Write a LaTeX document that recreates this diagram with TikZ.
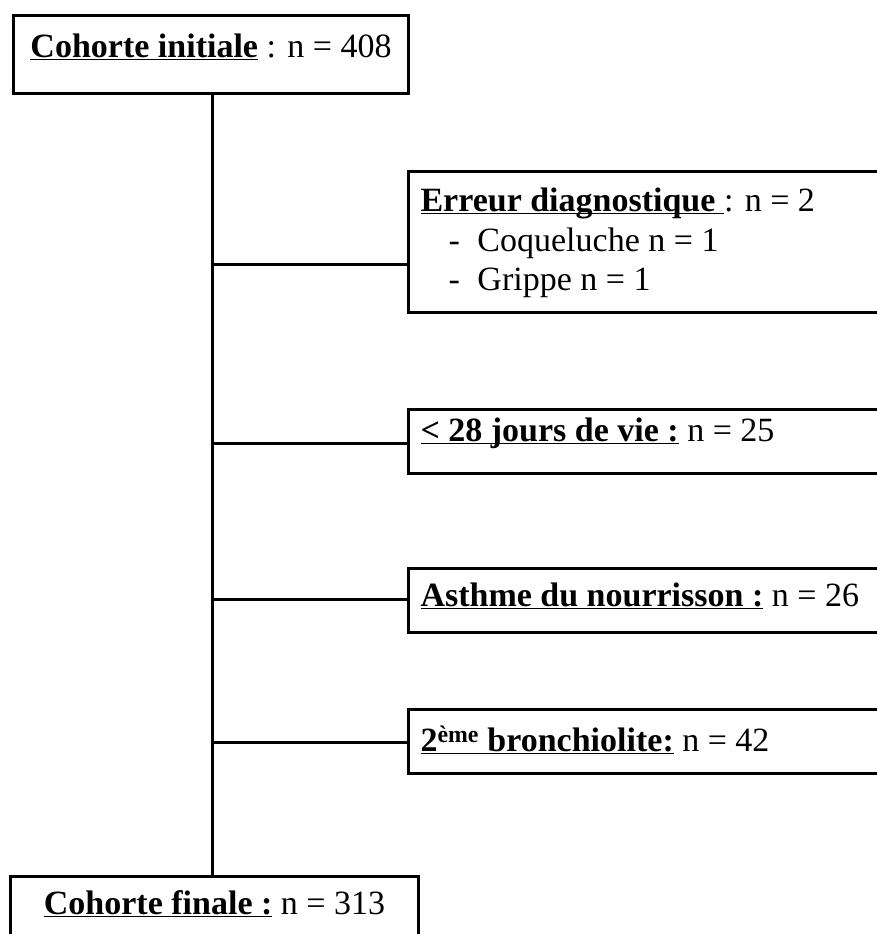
\documentclass[tikz,border=0pt]{standalone}
\usepackage{fontspec}
\setmainfont{Liberation Serif}
\usetikzlibrary{positioning}
\newcommand{\souligne}[1]{\underline{\smash{#1}}}

\begin{document}
\begin{tikzpicture}[
  x=1pt, y=-1pt,
  txt/.style={
    font=\fontsize{34}{39.5}\selectfont,
    execute at begin node={\spaceskip=0pt\xspaceskip=0pt}
  },
  cohorte/.style={
    txt, draw=black, line width=3pt,
    align=center, anchor=north west,
    minimum width=#1, minimum height=78pt,
    inner sep=0pt
  },
  motif/.style={
    txt, draw=black, line width=3pt,
    align=left, anchor=north west,
    text width=500pt, minimum height=#1,
    inner xsep=12pt, inner ysep=0pt
  },
  link/.style={line width=3pt}
]
\clip (0,0) rectangle (877,934);

%% ═══ COHORTE INITIALE ═══
\node[cohorte=395pt, text height=24pt, text depth=18pt] (init) at (12,14)
  {\souligne{\textbf{Cohorte initiale}} : n = 408};

\coordinate (trunk) at (212,0);

%% ═══ EXCLUSIONS ═══
\node[motif=141pt, text height=24pt, text depth=85pt] (erreur) at (407,170)
  {\souligne{\textbf{Erreur diagnostique}\ }: n = 2\\
   \hspace*{28pt}\makebox[29pt][l]{-}Coqueluche n = 1\\
   \hspace*{28pt}\makebox[29pt][l]{-}Grippe n = 1};

\node[motif=64pt, text height=24pt, text depth=24pt] (jours) at (407,408)
  {\souligne{\textbf{< 28 jours de vie :}} n = 25};

\node[motif=64pt, text height=26pt, text depth=14pt] (asthme) at (407,567)
  {\souligne{\textbf{Asthme du nourrisson :}} n = 26};

\node[motif=64pt, text height=28pt, text depth=8pt] (bronch) at (407,708)
  {\souligne{\textbf{2\textsuperscript{ème} bronchiolite:}} n = 42};

%% ═══ COHORTE FINALE ═══
\node[cohorte=408pt, text height=20pt, text depth=22pt] (final) at (9,875)
  {\souligne{\textbf{Cohorte finale :}} n = 313};

\draw[link] (init.south -| trunk) -- (final.north -| trunk);
\foreach \b/\dy in {erreur/-22.5, jours/-2, asthme/1, bronch/-1}
  \draw[link] ([yshift=\dy pt]\b.west -| trunk) -- ([yshift=\dy pt]\b.west);

\end{tikzpicture}
\end{document}
